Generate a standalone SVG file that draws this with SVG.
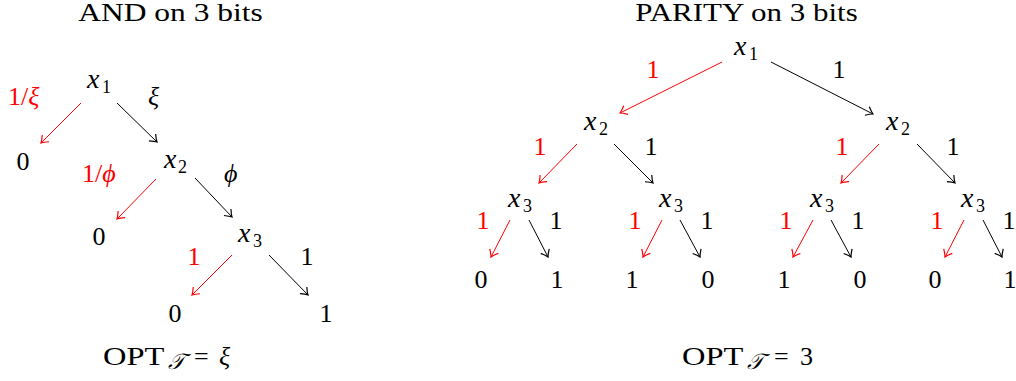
<svg xmlns="http://www.w3.org/2000/svg" width="1016" height="381" viewBox="0 0 1016 381">
<defs>
<style>
text{font-family:"Liberation Serif","Times New Roman",serif;font-size:26px;fill:#000}
.r{fill:#ff0000}
.m{font-style:italic}
.x{font-style:italic;font-size:28px}
.s{font-size:18px;font-style:normal}
.t{font-size:25px}
.c{font-size:22px;font-style:italic}
.e{stroke-width:1;fill:none}
.eb{stroke:#000}
.er{stroke:#ff0000}
.eb{marker-end:url(#ab)}
.er{marker-end:url(#ar)}
</style>
<marker id="ab" markerUnits="userSpaceOnUse" markerWidth="12" markerHeight="12" viewBox="-7 -5 9 10" refX="0" refY="0" orient="auto" overflow="visible">
<path d="M-5.5,-4 Q-2,-1 0,0 Q-2,1 -5.5,4" fill="none" stroke="#000" stroke-width="1"/>
</marker>
<marker id="ar" markerUnits="userSpaceOnUse" markerWidth="12" markerHeight="12" viewBox="-7 -5 9 10" refX="0" refY="0" orient="auto" overflow="visible">
<path d="M-5.5,-4 Q-2,-1 0,0 Q-2,1 -5.5,4" fill="none" stroke="#ff0000" stroke-width="1"/>
</marker>
</defs>
<rect width="1016" height="381" fill="#fff"/>

<g id="titles">
<text class="t" x="0" y="0" transform="translate(170.5,21) scale(1.26,1)" text-anchor="middle">AND on 3 bits</text>
<text class="t" x="0" y="0" transform="translate(746.5,21) scale(1.24,1)" text-anchor="middle">PARITY on 3 bits</text>
</g>

<g id="connectors">
<line class="e er" x1="81" y1="103" x2="41" y2="143"/>
<line class="e eb" x1="117" y1="103" x2="157" y2="142"/>
<line class="e er" x1="156" y1="179" x2="117" y2="219"/>
<line class="e eb" x1="195" y1="178" x2="232" y2="217"/>
<line class="e er" x1="232" y1="255" x2="192" y2="295"/>
<line class="e eb" x1="269" y1="255" x2="308" y2="295"/>

<line class="e er" x1="722" y1="62" x2="620" y2="113"/>
<line class="e eb" x1="771" y1="62" x2="873" y2="114"/>
<line class="e er" x1="577" y1="144" x2="539" y2="183"/>
<line class="e eb" x1="614" y1="144" x2="653" y2="183"/>
<line class="e er" x1="879" y1="144" x2="841" y2="183"/>
<line class="e eb" x1="917" y1="144" x2="955" y2="183"/>

<line class="e er" x1="510" y1="220" x2="491" y2="257"/>
<line class="e eb" x1="529" y1="220" x2="548" y2="257"/>
<line class="e er" x1="662" y1="220" x2="643" y2="257"/>
<line class="e eb" x1="680" y1="220" x2="700" y2="257"/>
<line class="e er" x1="813" y1="220" x2="793" y2="257"/>
<line class="e eb" x1="831" y1="220" x2="851" y2="257"/>
<line class="e er" x1="964" y1="220" x2="945" y2="257"/>
<line class="e eb" x1="983" y1="220" x2="1002" y2="257"/>
</g>

<g id="edge-labels">
<text class="r" x="8" y="105">1/<tspan class="m">ξ</tspan></text>
<text class="m" x="148" y="105">ξ</text>
<text class="r" x="82" y="182">1/<tspan class="m">ϕ</tspan></text>
<text class="m" x="224" y="182">ϕ</text>
<text class="r" x="194" y="265" text-anchor="middle">1</text>
<text x="307" y="265" text-anchor="middle">1</text>

<text class="r" x="653" y="78" text-anchor="middle">1</text>
<text x="839" y="78" text-anchor="middle">1</text>
<text class="r" x="540" y="155" text-anchor="middle">1</text>
<text x="651" y="155" text-anchor="middle">1</text>
<text class="r" x="842" y="155" text-anchor="middle">1</text>
<text x="953" y="155" text-anchor="middle">1</text>
<text class="r" x="483" y="229" text-anchor="middle">1</text>
<text x="556" y="229" text-anchor="middle">1</text>
<text class="r" x="635" y="229" text-anchor="middle">1</text>
<text x="707" y="229" text-anchor="middle">1</text>
<text class="r" x="786" y="229" text-anchor="middle">1</text>
<text x="858" y="229" text-anchor="middle">1</text>
<text class="r" x="937" y="229" text-anchor="middle">1</text>
<text x="1009" y="229" text-anchor="middle">1</text>
</g>

<g id="and-x1"><text class="x" x="87" y="88">x<tspan class="s" x="102" y="93">1</tspan></text></g>
<g id="and-x2"><text class="x" x="164" y="168">x<tspan class="s" x="178" y="173">2</tspan></text></g>
<g id="and-x3"><text class="x" x="238" y="242">x<tspan class="s" x="253" y="247">3</tspan></text></g>
<g id="and-leaf1"><text x="23" y="170" text-anchor="middle">0</text></g>
<g id="and-leaf2"><text x="99" y="245" text-anchor="middle">0</text></g>
<g id="and-leaf3"><text x="175" y="322" text-anchor="middle">0</text></g>
<g id="and-leaf4"><text x="326" y="322" text-anchor="middle">1</text></g>

<g id="par-x1"><text class="x" x="734" y="55">x<tspan class="s" x="749" y="60">1</tspan></text></g>
<g id="par-x2a"><text class="x" x="584" y="130">x<tspan class="s" x="599" y="135">2</tspan></text></g>
<g id="par-x2b"><text class="x" x="886" y="130">x<tspan class="s" x="901" y="135">2</tspan></text></g>
<g id="par-x3a"><text class="x" x="508" y="207">x<tspan class="s" x="523" y="212">3</tspan></text></g>
<g id="par-x3b"><text class="x" x="659" y="207">x<tspan class="s" x="674" y="212">3</tspan></text></g>
<g id="par-x3c"><text class="x" x="810" y="207">x<tspan class="s" x="825" y="212">3</tspan></text></g>
<g id="par-x3d"><text class="x" x="961" y="207">x<tspan class="s" x="976" y="212">3</tspan></text></g>
<g id="par-leaves">
<text x="481" y="288" text-anchor="middle">0</text>
<text x="557" y="288" text-anchor="middle">1</text>
<text x="632" y="288" text-anchor="middle">1</text>
<text x="708" y="288" text-anchor="middle">0</text>
<text x="784" y="288" text-anchor="middle">1</text>
<text x="860" y="288" text-anchor="middle">0</text>
<text x="935" y="288" text-anchor="middle">0</text>
<text x="1010" y="288" text-anchor="middle">1</text>
</g>

<g id="opt-labels">
<text x="0" y="0" transform="translate(103,365) scale(1.25,1)">OPT</text>
<text class="c" x="168" y="369">𝒯</text>
<text x="194" y="365">=</text>
<text class="m" x="219" y="365">ξ</text>
<text x="0" y="0" transform="translate(682,365) scale(1.25,1)">OPT</text>
<text class="c" x="747" y="369">𝒯</text>
<text x="774" y="365">=</text>
<text x="800" y="365">3</text>
</g>
</svg>
